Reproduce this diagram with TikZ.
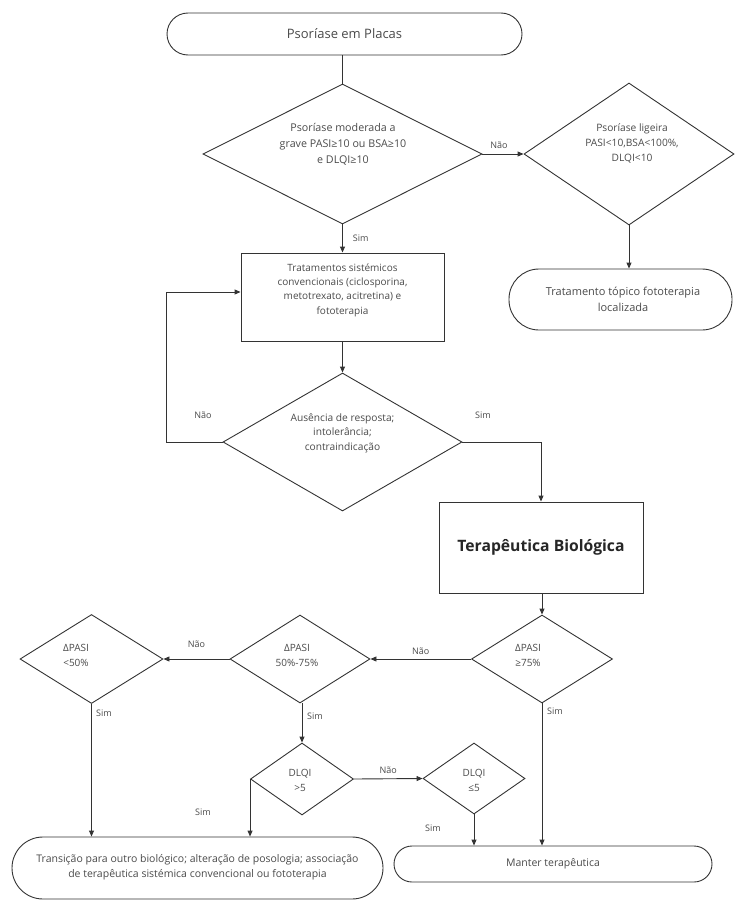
\documentclass[tikz,border=0pt]{standalone}
\usepackage{fontspec}
\setmainfont{Open Sans}
\usetikzlibrary{shapes.geometric,arrows.meta}
\definecolor{ln}{HTML}{333333}
\definecolor{tx}{HTML}{4A4A4A}
\begin{document}
\begin{tikzpicture}[x=1pt,y=-1pt,
  line/.style={draw=ln, line width=0.9pt},
  arr/.style={line, -{Triangle[length=6pt,width=5pt]}},
  dec/.style={diamond, draw=ln, line width=0.9pt, inner sep=0pt},
  boxn/.style={rectangle, draw=ln, line width=0.9pt, inner sep=0pt},
  term/.style={rectangle, draw=ln, line width=0.9pt, inner sep=0pt},
  txt/.style={font=\fontsize{10}{15}\selectfont, text=tx, align=center, inner sep=0pt},
  lbl/.style={font=\fontsize{9}{10}\selectfont, text=tx, inner sep=0pt}]
\useasboundingbox (0,0) rectangle (734,902);

% top terminal
\node[term, minimum width=355pt, minimum height=42pt, rounded corners=21pt] (t1) at (344.5,34) {};
\node[txt, font=\fontsize{13}{15}\selectfont] (t1t) at (344.5,34) {Psoríase em Placas};

% decision 1
\node[dec, minimum width=279pt, minimum height=140pt] (d1) at (342.5,154) {};
\node[txt, font=\fontsize{10.7}{16}\selectfont] (d1t) at (343,144) {Psoríase moderada a\\grave PASI≥10 ou BSA≥10\\e DLQI≥10};

% decision 2
\node[dec, minimum width=210pt, minimum height=142pt] (d2) at (629,154) {};
\node[txt, font=\fontsize{10.2}{15}\selectfont] (d2t) at (632,143) {Psoríase ligeira\\PASI<10,BSA<100\%,\\DLQI<10};

% terminal 2
\node[term, minimum width=223pt, minimum height=61pt, rounded corners=30pt] (t2) at (620.5,299.5) {};
\node[txt, font=\fontsize{11}{16}\selectfont] (t2t) at (623,299) {Tratamento tópico fototerapia\\localizada};

% box 1
\node[boxn, minimum width=203pt, minimum height=88pt] (b1) at (342.5,297) {};
\node[txt, font=\fontsize{10}{14.3}\selectfont] (b1t) at (342.5,290) {Tratamentos sistémicos\\convencionais (ciclosporina,\\metotrexato, acitretina) e\\fototerapia};

% decision 3
\node[dec, minimum width=239pt, minimum height=138pt] (d3) at (342.5,442) {};
\node[txt, font=\fontsize{10.2}{14.5}\selectfont] (d3t) at (342.5,433) {Ausência de resposta;\\intolerância;\\contraindicação};

% box 2
\node[boxn, minimum width=204pt, minimum height=91pt] (b2) at (541,547.5) {};
\node[txt, font=\fontsize{15.7}{18}\selectfont\bfseries, text=black!85] (b2t) at (541,547) {Terapêutica Biológica};

% decision 4
\node[dec, minimum width=141pt, minimum height=88pt] (d4) at (542,659) {};
\node[txt] (d4t) at (528,655) {ΔPASI\\≥75\%};

% decision 5
\node[dec, minimum width=140pt, minimum height=88pt] (d5) at (300,659) {};
\node[txt] (d5t) at (297,655) {ΔPASI\\50\%-75\%};

% decision 6
\node[dec, minimum width=143pt, minimum height=89pt] (d6) at (91.5,659) {};
\node[txt] (d6t) at (76,655) {ΔPASI\\<50\%};

% decision 7
\node[dec, minimum width=103pt, minimum height=72pt] (d7) at (302,779) {};
\node[txt] (d7t) at (300,780) {DLQI\\>5};

% decision 8
\node[dec, minimum width=102pt, minimum height=71pt] (d8) at (474,778.5) {};
\node[txt] (d8t) at (474,780) {DLQI\\≤5};

% terminal 3
\node[term, minimum width=371pt, minimum height=62pt, rounded corners=31pt] (t3) at (197.5,868) {};
\node[txt, font=\fontsize{10.5}{15}\selectfont] (t3t) at (197.5,867.5) {Transição para outro biológico; alteração de posologia; associação\\de terapêutica sistémica convencional ou fototerapia};

% terminal 4
\node[term, minimum width=318pt, minimum height=36pt, rounded corners=18pt] (t4) at (553,864) {};
\node[txt, font=\fontsize{10.5}{15}\selectfont] (t4t) at (553,864) {Manter terapêutica};

% connectors
\draw[line] (t1.south -| d1.north) -- (d1.north);
\draw[arr] (d1.east) -- (d2.west) node[lbl, pos=0.4, above=5pt] (l1) {Não};
\draw[arr] (d2.south) -- (d2.south |- t2.north);
\draw[arr] (d1.south) -- (b1.north) node[lbl, midway, right=10pt] (l2) {Sim};
\draw[arr] (b1.south) -- (d3.north);
\draw[arr] (d3.west) -- ++(-56,0) |- ([yshift=5pt]b1.west);
\node[lbl] (l3) at (203,415) {Não};
\draw[arr] (d3.east) -| (b2.north);
\node[lbl] (l4) at (483,415) {Sim};
\draw[arr] (b2.south -| d4.north) -- (d4.north);
\draw[arr] (d4.west) -- (d5.east) node[lbl, midway, above=4pt] (l5) {Não};
\draw[arr] (d5.west) -- (d6.east) node[lbl, midway, above=11pt] (l6) {Não};
\draw[arr] (d6.south) -- (d6.south |- t3.north);
\node[lbl, anchor=west] (l7) at (96,713) {Sim};
\draw[arr] (d5.south -| d7.north) -- (d7.north);
\node[lbl, anchor=west] (l8) at (307,716) {Sim};
\draw[arr] (d7.west) -- (d7.west |- t3.north);
\node[lbl] (l9) at (203,812) {Sim};
\draw[arr] (d7.east) -- (d8.west) node[lbl, midway, above=5pt] (l10) {Não};
\draw[arr] (d8.south) -- (d8.south |- t4.north);
\node[lbl] (l11) at (433,828) {Sim};
\draw[arr] (d4.south) -- (d4.south |- t4.north);
\node[lbl, anchor=west] (l12) at (547,711) {Sim};
\end{tikzpicture}
\end{document}
